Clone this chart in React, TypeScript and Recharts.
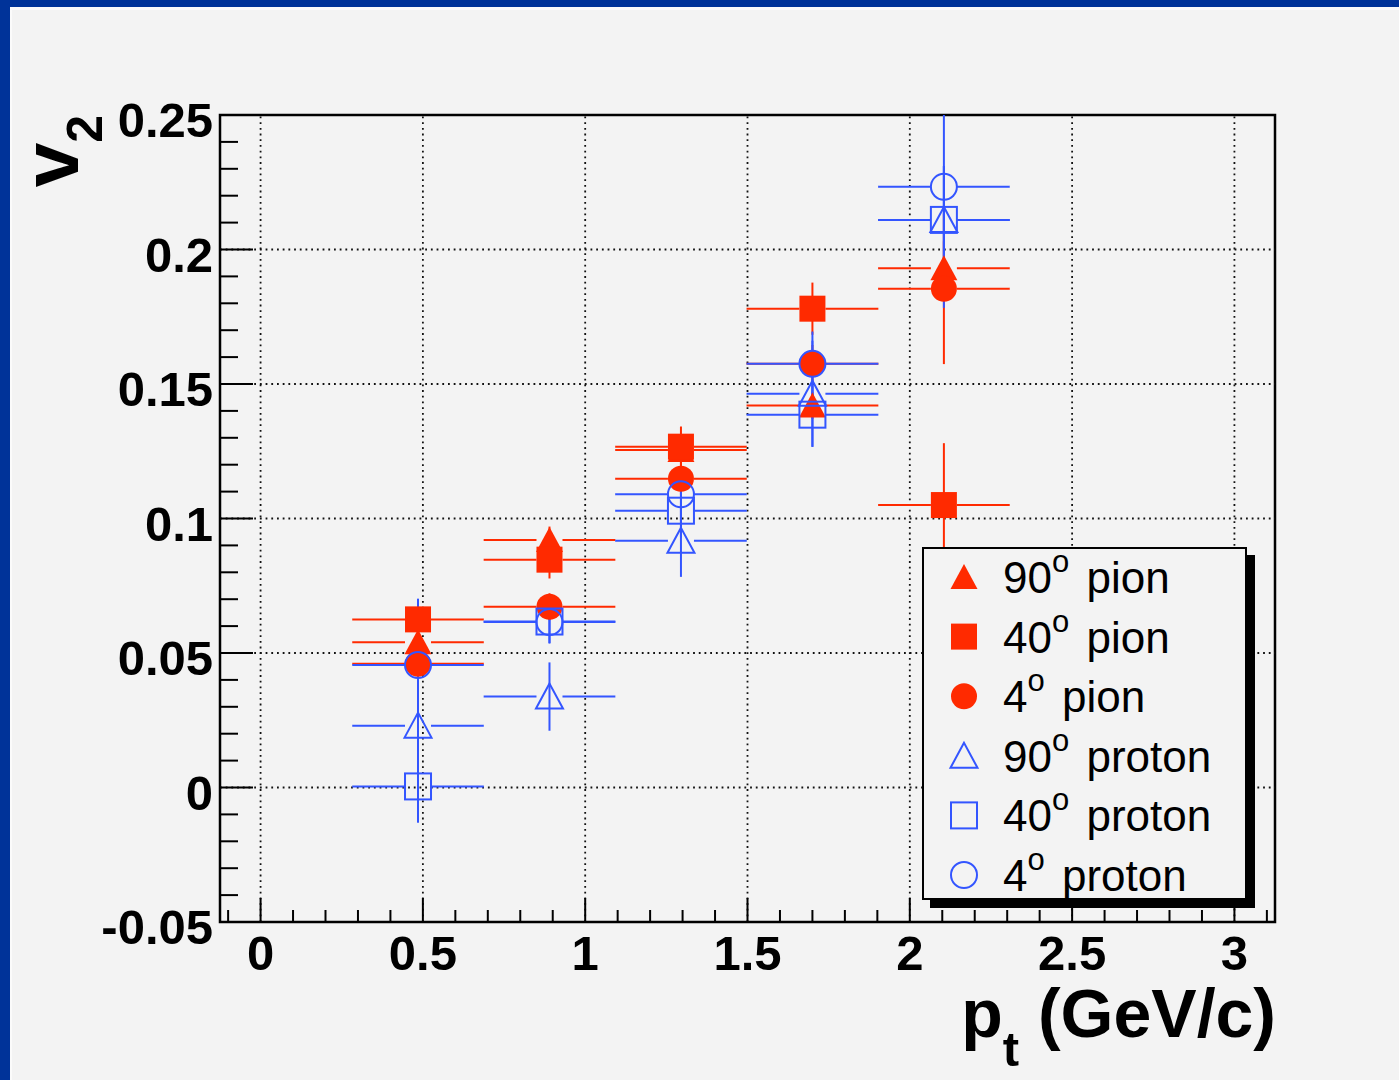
import React from 'react'
import { ScatterChart, Scatter, XAxis, YAxis, ErrorBar, ReferenceLine, ReferenceArea, Legend } from 'recharts'

// bin centres in pt (GeV/c) and half bin width
const PT = [0.485, 0.89, 1.295, 1.7, 2.105]
const PT_HALF_BIN = 0.2025

// v2 values and errors
const PION_90 = [0.054, 0.092, 0.1255, 0.142, 0.193]
const PION_90_ERR = [0.006, 0.005, 0.005, 0.005, 0.01]
const PION_40 = [0.0625, 0.0847, 0.1267, 0.178, 0.105]
const PION_40_ERR = [0.007, 0.007, 0.0075, 0.0097, 0.023]
const PION_4 = [0.046, 0.0672, 0.1148, 0.1575, 0.1854]
const PION_4_ERR = [0.006, 0.005, 0.006, 0.007, 0.028]
const PROTON_90 = [0.023, 0.0338, 0.0917, 0.1464, 0.211]
const PROTON_90_ERR = [0.016, 0.0127, 0.0134, 0.0197, 0.02]
const PROTON_40 = [0.0004, 0.0617, 0.1029, 0.1386, 0.211]
const PROTON_40_ERR = [0.0135, 0.008, 0.01, 0.012, 0.02]
const PROTON_4 = [0.0455, 0.0615, 0.109, 0.1575, 0.2233]
const PROTON_4_ERR = [0.0247, 0.008, 0.01, 0.012, 0.045]
// upper error of the last proton point runs out of the frame, cut at the top
const PROTON_4_ERR_UP = [0.0247, 0.008, 0.01, 0.012, 0.0267]

// axes
const X_DOMAIN = [-0.125, 3.125]
const Y_DOMAIN = [-0.05, 0.25]
const X_TICKS = [
  -0.1, 0, 0.1, 0.2, 0.3, 0.4, 0.5, 0.6, 0.7, 0.8, 0.9, 1, 1.1, 1.2, 1.3, 1.4, 1.5, 1.6,
  1.7, 1.8, 1.9, 2, 2.1, 2.2, 2.3, 2.4, 2.5, 2.6, 2.7, 2.8, 2.9, 3, 3.1,
]
const X_MAJOR = [0, 0.5, 1, 1.5, 2, 2.5, 3]
const Y_TICKS = [
  -0.05, -0.04, -0.03, -0.02, -0.01, 0, 0.01, 0.02, 0.03, 0.04, 0.05, 0.06, 0.07, 0.08, 0.09,
  0.1, 0.11, 0.12, 0.13, 0.14, 0.15, 0.16, 0.17, 0.18, 0.19, 0.2, 0.21, 0.22, 0.23, 0.24, 0.25,
]
const Y_MAJOR = [-0.05, 0, 0.05, 0.1, 0.15, 0.2, 0.25]

const RED = '#ff2a00'
const BLUE = '#3355ff'
const BG = '#f3f3f3'
const FONT = '"Liberation Sans", Arial, Helvetica, sans-serif'

const W = 1399
const H = 1080
const MARGIN = { top: 115, right: 124, bottom: 58, left: 20 }
const Y_AXIS_W = 200
const X_AXIS_H = 100
const PLOT_W = W - MARGIN.left - MARGIN.right - Y_AXIS_W

// ROOT leaves a gap in the horizontal error bar where the marker sits
const GAP = 26
const barLen = (2 * PT_HALF_BIN * PLOT_W) / (X_DOMAIN[1] - X_DOMAIN[0])
const X_DASH = `${(barLen - GAP) / 2} ${GAP} ${barLen}`

type Kind = 'triangle' | 'square' | 'circle'

const build = (vals: number[], errs: number[], errsUp: number[] = errs) =>
  PT.map((x, i) => ({ x, y: vals[i], ex: PT_HALF_BIN, ey: [errs[i], errsUp[i]] }))

const SERIES = [
  { name: '90', label: 'pion', kind: 'triangle' as Kind, filled: true, color: RED, data: build(PION_90, PION_90_ERR) },
  { name: '40', label: 'pion', kind: 'square' as Kind, filled: true, color: RED, data: build(PION_40, PION_40_ERR) },
  { name: '4', label: 'pion', kind: 'circle' as Kind, filled: true, color: RED, data: build(PION_4, PION_4_ERR) },
  { name: '90', label: 'proton', kind: 'triangle' as Kind, filled: false, color: BLUE, data: build(PROTON_90, PROTON_90_ERR) },
  { name: '40', label: 'proton', kind: 'square' as Kind, filled: false, color: BLUE, data: build(PROTON_40, PROTON_40_ERR) },
  { name: '4', label: 'proton', kind: 'circle' as Kind, filled: false, color: BLUE, data: build(PROTON_4, PROTON_4_ERR, PROTON_4_ERR_UP) },
]

function Marker({ cx, cy, kind, filled, color }: { cx: number; cy: number; kind: Kind; filled: boolean; color: string }) {
  const fill = filled ? color : 'none'
  const sw = filled ? 0 : 2
  if (kind === 'triangle') {
    const pts = `${cx},${cy - 13} ${cx - 13.5},${cy + 12} ${cx + 13.5},${cy + 12}`
    return <polygon points={pts} fill={fill} stroke={color} strokeWidth={sw} />
  }
  if (kind === 'square') {
    return <rect x={cx - 13} y={cy - 13} width={26} height={26} fill={fill} stroke={color} strokeWidth={sw} />
  }
  return <circle cx={cx} cy={cy} r={13} fill={fill} stroke={color} strokeWidth={sw} />
}

const isMajor = (v: number, majors: number[]) => majors.some((m) => Math.abs(m - v) < 1e-9)

const XTick = (props: any) => {
  const { x, y, payload } = props
  const major = isMajor(payload.value, X_MAJOR)
  return (
    <g>
      <line x1={x} x2={x} y1={y} y2={y - (major ? 24 : 12)} stroke="#000" strokeWidth={2} />
      {major && (
        <text x={x} y={y + 48} textAnchor="middle" fontFamily={FONT} fontWeight="bold" fontSize={49} fill="#000">
          {String(payload.value)}
        </text>
      )}
    </g>
  )
}

const YTick = (props: any) => {
  const { x, y, payload } = props
  const major = isMajor(payload.value, Y_MAJOR)
  return (
    <g>
      <line x1={x} x2={x + (major ? 33 : 18)} y1={y} y2={y} stroke="#000" strokeWidth={2} />
      {major && (
        <text x={x - 7} y={y + 22} textAnchor="end" fontFamily={FONT} fontWeight="bold" fontSize={49} fill="#000">
          {String(payload.value)}
        </text>
      )}
    </g>
  )
}

const XTitle = (props: any) => {
  const vb = props.viewBox
  const x = vb.x + vb.width + 1
  const y = vb.y + 115
  return (
    <text x={x} y={y} textAnchor="end" fontFamily={FONT} fontWeight="bold" fill="#000" style={{ whiteSpace: 'pre' }}>
      <tspan fontSize={68}>p</tspan>
      <tspan fontSize={49} dy={29}>t</tspan>
      <tspan fontSize={68} dy={-29}> (GeV/c)</tspan>
    </text>
  )
}

const YTitle = (props: any) => {
  const vb = props.viewBox
  const x = vb.x + 58
  const y = vb.y
  return (
    <text x={x} y={y} transform={`rotate(-90 ${x} ${y})`} textAnchor="end" fontFamily={FONT} fontWeight="bold" fill="#000">
      <tspan fontSize={80}>v</tspan>
      <tspan fontSize={50} dy={24}>2</tspan>
    </text>
  )
}

const LEG_W = 325
const LEG_H = 353
const LEG_PAD = 14 // room above the box so the superscripts are not clipped
const LEG_ROW0 = 30
const LEG_ROW_STEP = 59.6

function LegendBox() {
  return (
    <svg width={LEG_W + 9} height={LEG_H + 9 + LEG_PAD} style={{ display: 'block', overflow: 'visible' }}>
      <g transform={`translate(0 ${LEG_PAD})`}>
        <rect x={8} y={8} width={LEG_W} height={LEG_H} fill="#000" />
        <rect x={1} y={1} width={LEG_W - 2} height={LEG_H - 2} fill={BG} stroke="#000" strokeWidth={2} />
        {SERIES.map((s, i) => {
          const cy = LEG_ROW0 + i * LEG_ROW_STEP
          return (
            <g key={i}>
              <Marker cx={42} cy={cy} kind={s.kind} filled={s.filled} color={s.color} />
              <text x={81} y={cy + 16} fontFamily={FONT} fontSize={44} fill="#000" style={{ whiteSpace: 'pre' }}>
                <tspan>{s.name}</tspan>
                <tspan fontSize={31} dy={-21}>o</tspan>
                <tspan dy={21} dx={5}>{' ' + s.label}</tspan>
              </text>
            </g>
          )
        })}
      </g>
    </svg>
  )
}

export default function App() {
  return (
    <div style={{ position: 'absolute', left: 0, top: 0, width: W, height: H, background: '#003399', overflow: 'hidden' }}>
      <div
        style={{
          position: 'absolute',
          left: 10,
          top: 7,
          right: 0,
          bottom: 0,
          background: BG,
          borderTop: '3px solid #fbfbfb',
          borderLeft: '2px solid #fbfbfb',
        }}
      />
      <div style={{ position: 'absolute', left: 0, top: 0 }}>
        <ScatterChart width={W} height={H} margin={MARGIN}>
          {X_MAJOR.map((v) => (
            <ReferenceLine key={`gx${v}`} x={v} stroke="#111" strokeWidth={1.8} strokeDasharray="1.8 3.9" />
          ))}
          {Y_MAJOR.filter((v) => v > Y_DOMAIN[0] && v < Y_DOMAIN[1]).map((v) => (
            <ReferenceLine key={`gy${v}`} y={v} stroke="#111" strokeWidth={1.8} strokeDasharray="1.8 3.9" />
          ))}
          <XAxis
            type="number"
            dataKey="x"
            domain={X_DOMAIN}
            allowDataOverflow
            ticks={X_TICKS}
            interval={0}
            tick={<XTick />}
            tickLine={false}
            tickSize={0}
            tickMargin={0}
            axisLine={false}
            height={X_AXIS_H}
            label={XTitle}
          />
          <YAxis
            type="number"
            dataKey="y"
            domain={Y_DOMAIN}
            allowDataOverflow
            ticks={Y_TICKS}
            interval={0}
            tick={<YTick />}
            tickLine={false}
            tickSize={0}
            tickMargin={0}
            axisLine={false}
            width={Y_AXIS_W}
            label={YTitle}
          />
          {SERIES.map((s, i) => (
            <Scatter
              key={i}
              name={`${s.name} ${s.label}`}
              data={s.data}
              isAnimationActive={false}
              shape={(p: any) => <Marker cx={p.cx} cy={p.cy} kind={s.kind} filled={s.filled} color={s.color} />}
            >
              <ErrorBar dataKey="ex" direction="x" width={0} stroke={s.color} strokeWidth={2} strokeDasharray={X_DASH} isAnimationActive={false} />
              <ErrorBar dataKey="ey" direction="y" width={0} stroke={s.color} strokeWidth={2} isAnimationActive={false} />
            </Scatter>
          ))}
          <ReferenceArea
            x1={X_DOMAIN[0]}
            x2={X_DOMAIN[1]}
            y1={Y_DOMAIN[0]}
            y2={Y_DOMAIN[1]}
            fill="none"
            fillOpacity={0}
            stroke="#000"
            strokeWidth={2.5}
          />
          <Legend
            content={() => <LegendBox />}
            layout="horizontal"
            verticalAlign="middle"
            align="center"
            wrapperStyle={{ left: 922, top: 547 - LEG_PAD, width: LEG_W + 9, height: LEG_H + 9 + LEG_PAD }}
          />
        </ScatterChart>
      </div>
    </div>
  )
}
